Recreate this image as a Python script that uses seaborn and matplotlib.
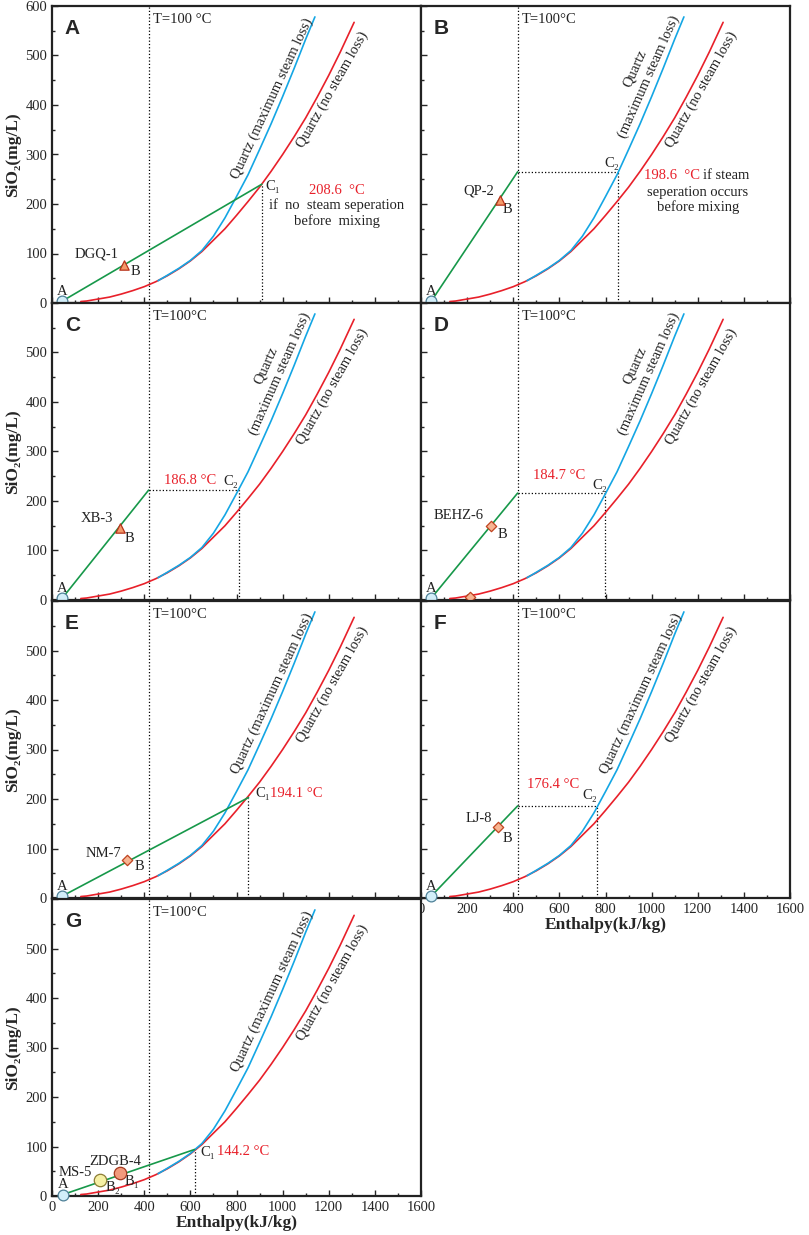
import numpy as np
import pandas as pd
import matplotlib
matplotlib.use("Agg")
import matplotlib.pyplot as plt
import seaborn as sns

# quartz solubility curves (enthalpy kJ/kg vs SiO2 mg/L)
nsl_h = [125, 150, 200, 250, 300, 350, 400, 450, 500, 550, 600, 650, 700, 750,
         800, 850, 900, 950, 1000, 1050, 1100, 1150, 1200, 1250, 1310]
nsl_si = [3, 4, 8, 12, 18, 25, 33, 43, 55, 69, 85, 104, 127, 150,
          177, 205, 234, 266, 300, 336, 374, 416, 460, 507, 567]
msl_h = [460, 500, 550, 600, 650, 700, 750, 800, 850, 900, 950, 1000, 1050, 1100, 1140]
msl_si = [45, 56, 70, 86, 106, 135, 172, 215, 259, 310, 362, 417, 474, 533, 578]

t100_h = 419

panels = ['A', 'B', 'C', 'D', 'E', 'F', 'G']
cold_h = [45, 45, 45, 45, 45, 45, 48]
cold_si = [4, 4, 4, 4, 4, 4, 3]
mix_h = [910, 855, 809, 798, 852, 762, 618]
mix_si = [240, 265, 222, 216, 203, 186, 94]
steam_sep = [False, True, True, True, False, True, False]
mix_temp = ['208.6  °C', '198.6  °C', '186.8 °C', '184.7 °C', '194.1 °C', '176.4 °C', '144.2 °C']

sample_names = ['DGQ-1', 'QP-2', 'XB-3', 'BEHZ-6', 'NM-7', 'LJ-8', 'MS-5', 'ZDGB-4', '']
sample_panel = ['A', 'B', 'C', 'D', 'E', 'F', 'G', 'G', 'D']
sample_h = [314, 341, 297, 302, 326, 334, 210, 294, 214]
sample_si = [77, 208, 145, 149, 76, 144, 32, 46, 7]
sample_kind = ['tri', 'tri', 'tri', 'dia', 'dia', 'dia', 'yel', 'sal', 'dia']

RED = '#e8202a'
BLUE = '#14a6e4'
GREEN = '#17984a'

marker_style = {
    'tri': dict(marker='^', s=45, color='#f49a6a', edgecolor='#b8321a'),
    'dia': dict(marker='D', s=28, color='#f7b592', edgecolor='#c0431f'),
    'yel': dict(marker='o', s=80, color='#f6f0a4', edgecolor='#8d7d35'),
    'sal': dict(marker='o', s=80, color='#f29a7c', edgecolor='#a5391f'),
}

sns.set_style("ticks")
plt.rcParams['font.family'] = ['Liberation Serif', 'DejaVu Serif']
plt.rcParams['font.size'] = 10

fig = plt.figure(figsize=(8.09, 12.35), dpi=100)
W = 369 / 809
H = 297 / 1235
lefts = [52 / 809, 421 / 809]
bottoms = [1 - 303 / 1235, 1 - 600 / 1235, 1 - 898 / 1235, 1 - 1196 / 1235]

curves = pd.DataFrame({'h': nsl_h, 'si': nsl_si})
curves_max = pd.DataFrame({'h': msl_h, 'si': msl_si})


def txt(ax, x, y, s, color='#222222', **kw):
    ax.text(x, y, s, color=color, fontsize=10.5, **kw)


def rot_txt(ax, x, y, s, angle):
    ax.text(x, y, s, rotation=angle, ha='center', va='center', fontsize=10.5,
            color='#222222', rotation_mode='anchor')


for i, p in enumerate(panels):
    row, col = i // 2, i % 2
    ax = fig.add_axes([lefts[col], bottoms[row], W, H])
    ax.set_xlim(0, 1600)
    ax.set_ylim(0, 600)

    # T = 100 C line
    ax.plot([t100_h, t100_h], [0, 600], ls=':', color='k', lw=0.9, zorder=1)

    # solubility curves
    sns.lineplot(data=curves, x='h', y='si', ax=ax, color=RED, lw=1.2, sort=False,
                 estimator=None, zorder=3)
    sns.lineplot(data=curves_max, x='h', y='si', ax=ax, color=BLUE, lw=1.2, sort=False,
                 estimator=None, zorder=3)

    # mixing line
    if steam_sep[i]:
        ax.plot([cold_h[i], t100_h], [cold_si[i], mix_si[i]], color=GREEN, lw=1.2, zorder=4)
        ax.plot([t100_h, mix_h[i]], [mix_si[i], mix_si[i]], ls=':', color='k', lw=0.9, zorder=2)
    else:
        ax.plot([cold_h[i], mix_h[i]], [cold_si[i], mix_si[i]], color=GREEN, lw=1.2, zorder=4)
    ax.plot([mix_h[i], mix_h[i]], [0, mix_si[i]], ls=':', color='k', lw=0.9, zorder=2)

    # cold end member A
    sns.scatterplot(x=[cold_h[i]], y=[cold_si[i]], ax=ax, marker='o', s=60, color='#d2eef9',
                    edgecolor='#4f8198', linewidth=0.9, zorder=6, clip_on=False)
    txt(ax, cold_h[i], 11, 'A', ha='center', va='bottom')

    for name, sp, h, si, k in zip(sample_names, sample_panel, sample_h, sample_si, sample_kind):
        if sp != p:
            continue
        st = marker_style[k]
        sns.scatterplot(x=[h], y=[si], ax=ax, marker=st['marker'], s=st['s'], color=st['color'],
                        edgecolor=st['edgecolor'], linewidth=0.9, zorder=6, clip_on=False)

    # curve labels
    if p in ('B', 'C', 'D'):
        rot_txt(ax, 927, 473, 'Quartz', 66)
        rot_txt(ax, 988, 458, '(maximum steam loss)', 66)
    else:
        rot_txt(ax, 955, 414, 'Quartz (maximum steam loss)', 65)
    rot_txt(ax, 1218, 432, 'Quartz (no steam loss)', 60.5)

    # panel letter and T label
    ax.text(0.035, 0.955, p, transform=ax.transAxes, ha='left', va='top', fontsize=15,
            fontweight='bold', family='Liberation Sans')
    txt(ax, t100_h + 18, 572, 'T=100 °C' if p == 'A' else 'T=100°C', ha='left', va='center')

    # panel specific annotations
    if p == 'A':
        txt(ax, 194, 100, 'DGQ-1', ha='center', va='center')
        txt(ax, 364, 63, 'B', ha='center', va='center')
        txt(ax, 925, 235, 'C₁', ha='left', va='center')
        txt(ax, 1235, 228, mix_temp[i], color=RED, ha='center', va='center')
        txt(ax, 1235, 197, 'if  no  steam seperation', ha='center', va='center')
        txt(ax, 1235, 166, 'before  mixing', ha='center', va='center')
    elif p == 'B':
        txt(ax, 250, 226, 'QP-2', ha='center', va='center')
        txt(ax, 373, 188, 'B', ha='center', va='center')
        txt(ax, 826, 282, 'C₂', ha='center', va='center')
        txt(ax, 1210, 257, mix_temp[i], color=RED, ha='right', va='center')
        txt(ax, 1222, 257, 'if steam', ha='left', va='center')
        txt(ax, 1200, 224, 'seperation occurs', ha='center', va='center')
        txt(ax, 1200, 193, 'before mixing', ha='center', va='center')
    elif p == 'C':
        txt(ax, 194, 165, 'XB-3', ha='center', va='center')
        txt(ax, 335, 125, 'B', ha='center', va='center')
        txt(ax, 599, 242, mix_temp[i], color=RED, ha='center', va='center')
        txt(ax, 776, 240, 'C₂', ha='center', va='center')
    elif p == 'D':
        txt(ax, 164, 170, 'BEHZ-6', ha='center', va='center')
        txt(ax, 354, 133, 'B', ha='center', va='center')
        txt(ax, 600, 251, mix_temp[i], color=RED, ha='center', va='center')
        txt(ax, 776, 232, 'C₂', ha='center', va='center')
    elif p == 'E':
        txt(ax, 223, 89, 'NM-7', ha='center', va='center')
        txt(ax, 379, 63, 'B', ha='center', va='center')
        txt(ax, 880, 211, 'C₁', ha='left', va='center')
        txt(ax, 945, 211, mix_temp[i], color=RED, ha='left', va='center')
    elif p == 'F':
        txt(ax, 250, 161, 'LJ-8', ha='center', va='center')
        txt(ax, 373, 120, 'B', ha='center', va='center')
        txt(ax, 575, 230, mix_temp[i], color=RED, ha='center', va='center')
        txt(ax, 733, 207, 'C₂', ha='center', va='center')
    elif p == 'G':
        txt(ax, 100, 48, 'MS-5', ha='center', va='center')
        txt(ax, 273, 70, 'ZDGB-4', ha='center', va='center')
        txt(ax, 263, 18, 'B₂', ha='center', va='center')
        txt(ax, 345, 30, 'B₁', ha='center', va='center')
        txt(ax, 645, 88, 'C₁', ha='left', va='center')
        txt(ax, 715, 90, mix_temp[i], color=RED, ha='left', va='center')

    # axes styling
    ax.set_xticks(range(0, 1601, 200))
    ax.set_xticks(range(0, 1601, 100), minor=True)
    ax.set_yticks(range(0, 601, 100))
    ax.set_yticks(range(0, 601, 50), minor=True)
    ax.tick_params(which='both', direction='in', top=False, right=False, labelsize=10.5)
    ax.tick_params(which='major', length=4.5, width=1)
    ax.tick_params(which='minor', length=2.5, width=1)
    for sp_ in ax.spines.values():
        sp_.set_linewidth(1.6)
        sp_.set_color('#222222')
        sp_.set_visible(True)

    if col == 0:
        ylabs = [str(v) for v in range(0, 601, 100)]
        if p != 'A':
            ylabs[-1] = ''
        ax.set_yticklabels(ylabs)
        ax.set_ylabel('SiO₂(mg/L)', fontsize=12.5, fontweight='bold', labelpad=3)
    else:
        ax.tick_params(labelleft=False)
        ax.set_ylabel('')

    if p in ('F', 'G'):
        ax.set_xlabel('Enthalpy(kJ/kg)', fontsize=12.5, fontweight='bold', labelpad=1)
    else:
        ax.tick_params(labelbottom=False)
        ax.set_xlabel('')

fig.savefig('out.png', dpi=100)
